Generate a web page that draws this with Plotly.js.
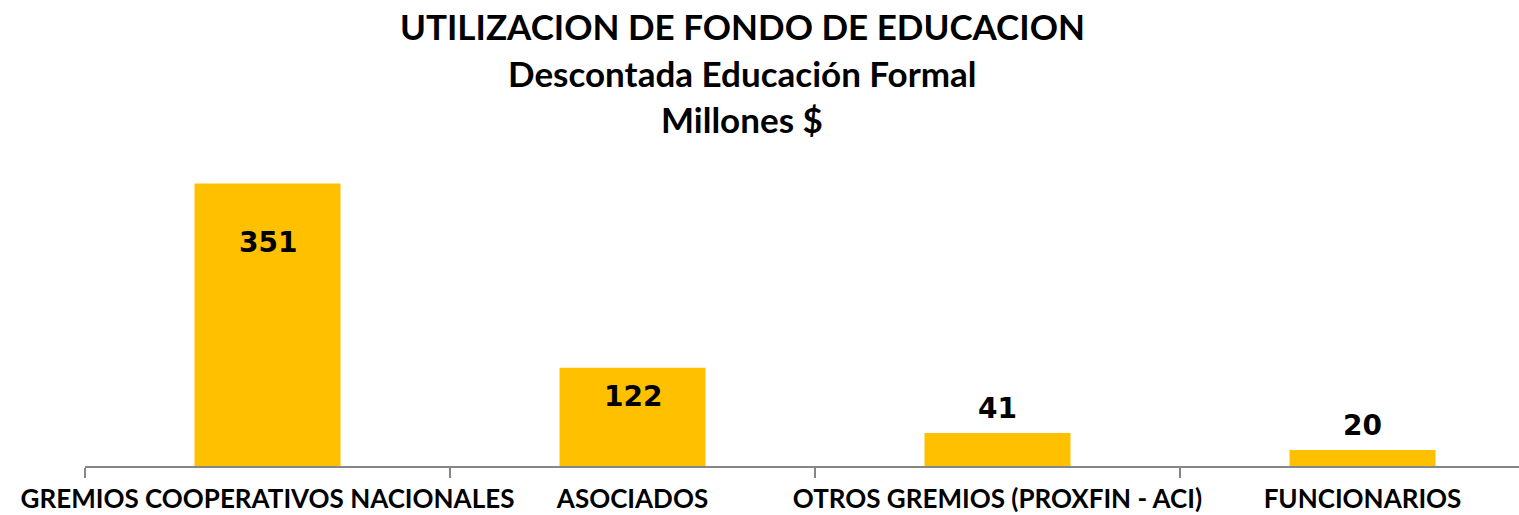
<!DOCTYPE html>
<html>
<head>
<meta charset="utf-8">
<script src="https://cdn.plot.ly/plotly-3.0.1.min.js"></script>
<style>
    body { margin: 0; background: #ffffff; }
    #chart { width: 1519px; height: 515px; }
</style>
</head>
<body>
<div id="chart"></div>
<script>
// data
let categories = ["GREMIOS COOPERATIVOS NACIONALES", "ASOCIADOS", "OTROS GREMIOS (PROXFIN - ACI)", "FUNCIONARIOS"];
let values = [351, 122, 41, 20];
let titleLines = ["UTILIZACION DE FONDO DE EDUCACION", "Descontada Educación Formal", "Millones $"];

// label offsets (px) from the bar top, like excel placed them
let labelShift = [-59, -29, 25, 24];

let W = 1519, H = 515;
let margin = { l: 85, r: 0, t: 144, b: 49 };
let plotH = H - margin.t - margin.b;

function paperY(py) { // pixel row -> paper y
    return (H - margin.b - py) / plotH;
}

let trace = {
    x: categories,
    y: values,
    type: 'bar',
    width: 0.4,
    hoverinfo: 'none',
    marker: { color: '#FFC000' }
};

let annotations = [];
for (let i = 0; i < values.length; i++) {
    annotations.push({
        x: categories[i],
        y: values[i],
        xref: 'x', yref: 'y',
        text: String(values[i]),
        showarrow: false,
        yanchor: 'middle',
        yshift: labelShift[i],
        font: { family: 'DejaVu Sans', size: 28, color: '#000000', weight: 'bold' }
    });
}

let titleRows = [26, 73, 119]; // centre rows of each title line
for (let i = 0; i < titleLines.length; i++) {
    annotations.push({
        x: (742 - margin.l) / (W - margin.l - margin.r),
        y: paperY(titleRows[i]),
        xref: 'paper', yref: 'paper',
        xanchor: 'center', yanchor: 'middle',
        text: '<b>' + titleLines[i] + '</b>',
        showarrow: false,
        font: { family: 'Lato', size: 35, color: '#000000' }
    });
}

let layout = {
    width: W,
    height: H,
    margin: margin,
    showlegend: false,
    paper_bgcolor: '#ffffff',
    plot_bgcolor: '#ffffff',
    xaxis: {
        type: 'category',
        // each category is 365px wide, the axis runs off the right edge
        range: [-0.5, -0.5 + (W - margin.l - margin.r) / 365],
        showline: true,
        linecolor: '#868686',
        linewidth: 1.5,
        ticks: 'outside',
        tickson: 'boundaries',
        ticklen: 10,
        tickcolor: '#868686',
        tickwidth: 1.5,
        tickangle: 0,
        ticklabelstandoff: 9,
        showgrid: false,
        zeroline: false,
        tickfont: { family: 'Lato', size: 26, color: '#000000', weight: 'bold' },
        fixedrange: true
    },
    yaxis: {
        range: [0, 400],
        visible: false,
        showgrid: false,
        zeroline: false,
        fixedrange: true
    },
    annotations: annotations
};

Plotly.newPlot('chart', [trace], layout, { displayModeBar: false, staticPlot: true });
</script>
</body>
</html>
